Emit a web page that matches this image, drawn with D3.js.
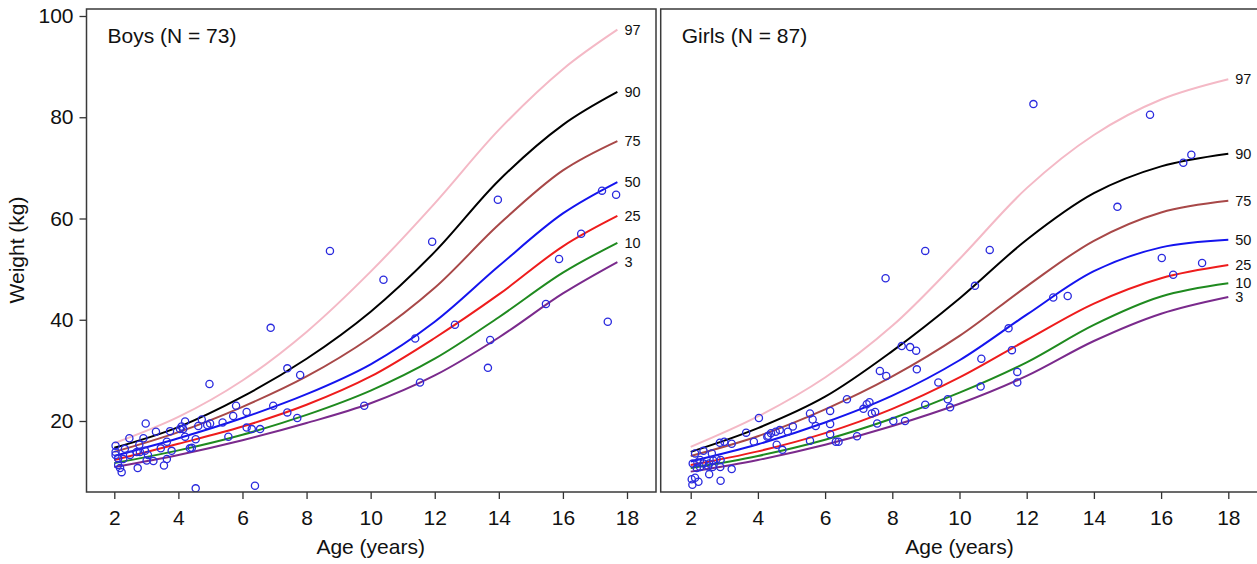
<!DOCTYPE html>
<html><head><meta charset="utf-8">
<script src="https://cdn.jsdelivr.net/npm/d3@7"></script>
<style>body{margin:0;background:#fff}svg{display:block;font-family:"Liberation Sans",Arial,sans-serif}</style>
</head><body>
<svg id="c" width="1257" height="564"></svg>
<script>
// ---- data ----
const percentiles = ["3","10","25","50","75","90","97"];
const boysAges = [2,4,6,8,10,12,14,16,17.7];
const boysP3  = [10.9,13.3,16.2,19.6,23.5,29.0,36.5,45.2,51.4];
const boysP10 = [11.7,14.2,17.3,21.2,26.0,32.3,40.5,49.3,55.2];
const boysP25 = [12.3,15.5,18.9,23.2,28.8,36.4,45.0,54.5,60.5];
const boysP50 = [13.1,16.6,20.6,25.3,31.2,39.6,50.6,61.0,67.2];
const boysP75 = [13.9,17.8,22.8,28.8,36.5,46.3,58.8,69.5,75.3];
const boysP90 = [14.7,18.8,24.8,32.3,41.6,53.4,67.5,78.5,85.0];
const boysP97 = [15.6,20.8,28.0,37.6,49.5,63.0,77.5,89.5,97.3];

const girlsAges = [2,4,6,8,10,12,14,16,18];
const girlsP3  = [10.0,12.3,15.3,19.0,23.4,28.9,35.8,41.2,44.5];
const girlsP10 = [10.7,13.1,16.3,20.5,25.6,31.6,39.0,44.6,47.2];
const girlsP25 = [11.3,14.0,17.6,22.4,28.6,36.0,43.2,48.2,50.8];
const girlsP50 = [12.0,15.4,19.7,25.0,32.0,41.0,49.6,54.3,55.8];
const girlsP75 = [13.1,17.0,22.3,28.8,36.8,46.6,55.6,61.2,63.5];
const girlsP90 = [13.9,18.6,24.8,33.8,44.2,55.8,65.0,70.3,72.8];
const girlsP97 = [14.9,20.9,28.6,38.8,52.0,66.0,76.5,83.5,87.5];

const boysAge = [8.73,10.40,11.92,13.97,6.88,7.40,7.80,4.97,12.63,11.39,11.54,9.80,13.66,13.73,15.47,17.40,17.22,17.66,15.88,16.57,
  6.96,7.40,7.71,5.80,6.13,5.71,5.38,4.73,4.62,4.90,4.99,4.21,4.10,4.05,6.13,6.29,6.55,5.56,4.21,4.54,4.42,2.98,3.30,3.64,2.91,
  2.78,2.47,2.96,2.80,2.04,2.04,2.12,2.28,2.70,3.01,3.22,3.55,3.79,3.45,3.64,4.36,2.12,2.18,2.23,2.73,4.54,6.39,2.49,3.05,3.74,
  2.04,2.33,4.15];
const boysWeight = [53.6,47.9,55.4,63.7,38.4,30.4,29.1,27.3,39.0,36.3,27.6,23.0,30.5,36.0,43.1,39.6,65.5,64.7,52.0,57.0,
  23.0,21.7,20.6,23.0,21.8,21.0,19.7,20.3,19.0,19.2,19.5,19.9,18.9,18.4,18.7,18.4,18.4,16.9,16.9,16.4,14.7,19.5,17.9,15.9,16.6,
  15.3,16.6,14.1,13.9,15.1,13.3,12.6,12.5,13.9,12.2,12.1,11.2,14.1,14.6,12.5,14.6,11.3,10.7,9.9,10.7,6.7,7.2,13.3,13.3,18.0,
  13.9,14.5,18.4];

const girlsAge = [12.2,15.67,16.66,16.9,14.7,8.98,10.9,7.8,10.46,8.28,8.53,8.71,7.63,7.82,8.73,9.37,10.65,11.46,11.56,11.72,
  11.72,12.79,13.22,16.02,16.36,17.22,10.63,9.65,9.72,8.98,8.03,8.38,7.55,6.95,7.14,7.24,7.32,7.39,7.49,
  4.03,3.65,2.87,3.0,3.22,3.88,4.28,4.39,4.31,4.65,4.53,4.89,5.04,4.56,4.73,5.55,5.63,5.72,6.15,6.15,5.55,6.15,6.32,6.40,6.65,
  2.13,2.38,2.63,2.06,2.2,2.28,2.38,2.55,2.67,2.77,2.89,2.88,2.65,2.52,2.28,2.18,2.55,3.22,2.03,2.13,2.23,2.05,2.89];
const girlsWeight = [82.6,80.5,71.0,72.6,62.3,53.6,53.8,48.2,46.7,34.8,34.6,33.9,29.9,28.9,30.2,27.6,32.3,38.3,34.0,29.7,
  27.6,44.4,44.7,52.2,48.9,51.2,26.8,24.3,22.7,23.2,20.0,20.0,19.5,17.0,22.4,23.3,23.7,21.5,21.8,
  20.6,17.7,15.7,15.9,15.5,15.9,16.9,17.6,17.1,18.2,17.9,17.9,18.9,15.3,14.3,21.5,20.3,19.0,22.0,19.4,16.1,17.4,15.9,15.9,24.3,
  13.6,14.1,13.6,11.6,11.8,12.3,11.6,11.6,12.2,12.5,12.3,10.9,10.9,11.0,10.9,10.7,9.5,10.5,8.5,8.8,8.0,7.4,8.2];

const xTicks = [2,4,6,8,10,12,14,16,18];
const yTicks = [20,40,60,80,100];
const curveColors = {"3":"#7a2a8c","10":"#1f8a1f","25":"#ee1c1c","50":"#1414ee","75":"#a84848","90":"#000000","97":"#f4b9c6"};

// ---- layout ----
const svg = d3.select("#c");
const y = d3.scaleLinear().domain([20,100]).range([421,16]);
const frameTop = 9, frameBottom = 492;
const FONT = "Liberation Sans, Arial, sans-serif";

const panels = [
  {title:"Boys (N = 73)", ages:boysAges, curves:{"3":boysP3,"10":boysP10,"25":boysP25,"50":boysP50,"75":boysP75,"90":boysP90,"97":boysP97},
   pa:boysAge, pw:boysWeight, x:d3.scaleLinear().domain([2,18]).range([114.3,627]), fl:86.5, fr:656, yaxis:true},
  {title:"Girls (N = 87)", ages:girlsAges, curves:{"3":girlsP3,"10":girlsP10,"25":girlsP25,"50":girlsP50,"75":girlsP75,"90":girlsP90,"97":girlsP97},
   pa:girlsAge, pw:girlsWeight, x:d3.scaleLinear().domain([2,18]).range([690.7,1228.3]), fl:660.7, fr:1258.5, yaxis:false}
];

panels.forEach(p => {
  const g = svg.append("g");
  const clipId = "clip" + (p.yaxis ? "L" : "R");
  svg.append("clipPath").attr("id", clipId).append("rect")
    .attr("x", p.fl).attr("y", frameTop).attr("width", p.fr - p.fl).attr("height", frameBottom - frameTop);

  const xa = g.append("g").attr("transform", `translate(0,${frameBottom})`)
    .call(d3.axisBottom(p.x).tickValues(xTicks).tickSize(7).tickPadding(11).tickFormat(d3.format("d")));
  xa.select(".domain").remove();
  xa.selectAll("line").attr("stroke","#333").attr("stroke-width",1.3);
  xa.selectAll("text").attr("font-size",21).attr("fill","#111").attr("font-family",FONT);

  if (p.yaxis) {
    const ya = g.append("g").attr("transform", `translate(${p.fl},0)`)
      .call(d3.axisLeft(y).tickValues(yTicks).tickSize(7).tickPadding(6));
    ya.select(".domain").remove();
    ya.selectAll("line").attr("stroke","#333").attr("stroke-width",1.3);
    ya.selectAll("text").attr("font-size",21).attr("fill","#111").attr("font-family",FONT);
    g.append("text").attr("transform","translate(24,250) rotate(-90)").attr("text-anchor","middle")
      .attr("font-size",21).attr("fill","#111").text("Weight (kg)");
  }

  g.append("text").attr("x", (p.x(2)+p.x(18))/2).attr("y", 554).attr("text-anchor","middle")
    .attr("font-size",21).attr("fill","#111").text("Age (years)");

  const cg = g.append("g").attr("clip-path", `url(#${clipId})`);
  const line = d3.line().x(d => p.x(d[0])).y(d => y(d[1])).curve(d3.curveCatmullRom.alpha(0.5));
  percentiles.slice().reverse().forEach(k => {
    const pts = p.ages.map((a,i) => [a, p.curves[k][i]]);
    cg.append("path").attr("d", line(pts)).attr("fill","none")
      .attr("stroke", curveColors[k]).attr("stroke-width", 2);
    const last = pts[pts.length-1];
    g.append("text").attr("x", p.x(last[0]) + 7).attr("y", y(last[1])).attr("dy","0.35em")
      .attr("font-size",14.5).attr("fill","#111").text(k);
  });

  cg.selectAll("circle.pt").data(p.pa.map((a,i)=>[a,p.pw[i]])).join("circle")
    .attr("cx", d => p.x(d[0])).attr("cy", d => y(d[1])).attr("r", 3.6)
    .attr("fill","none").attr("stroke","#2a2ade").attr("stroke-width",1.3);

  g.append("rect").attr("x", p.fl).attr("y", frameTop).attr("width", p.fr - p.fl).attr("height", frameBottom - frameTop)
    .attr("fill","none").attr("stroke","#3a3a3a").attr("stroke-width",1.5);

  g.append("text").attr("x", p.fl + 21).attr("y", 43).attr("font-size",21).attr("fill","#111").text(p.title);
});
</script>
</body></html>
